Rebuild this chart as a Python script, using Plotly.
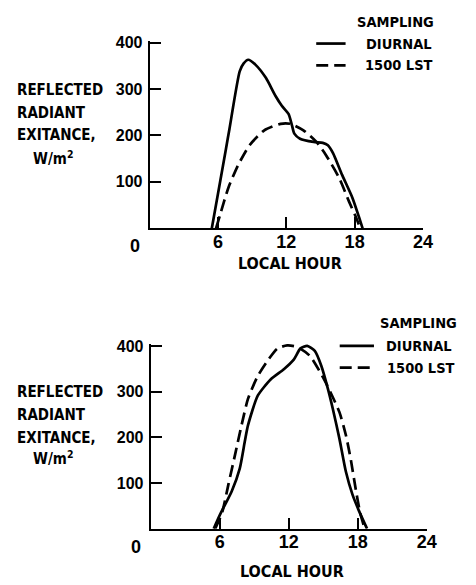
import plotly.graph_objects as go

# ---------------- data ----------------
top_diurnal_hour = [5.45, 6.2, 6.7, 7.0, 7.9, 8.25, 8.65, 9.3, 10.2, 11.05, 11.6, 12.2, 12.5, 12.7,
                    13.2, 14.4, 15.2, 15.65, 16.1, 16.9, 17.8, 18.4, 18.7]
top_diurnal_val = [0, 103, 172, 214, 338, 355, 363, 352, 324, 285, 264, 246, 221, 204,
                   193, 186, 184, 179, 162, 115, 66, 23, 0]

top_lst_hour = [5.82, 6.19, 6.9, 7.76, 8.77, 10.06, 11.5, 12.36, 13.5, 14.64, 15.5, 16.65, 17.5, 18.1, 18.5]
top_lst_val = [0, 30, 87, 136, 179, 211, 225, 225, 211, 186, 157, 108, 58, 25, 0]

bot_diurnal_hour = [5.47, 6.04, 7.04, 7.74, 8.17, 8.45, 9.3, 10.44, 11.57, 12.43, 13.0, 13.6,
                    14.26, 14.83, 15.4, 15.83, 16.4, 16.96, 17.53, 18.1, 18.8]
bot_diurnal_val = [0, 32, 82, 132, 190, 226, 291, 327, 349, 370, 394, 400,
                   389, 356, 306, 262, 197, 125, 75, 39, 0]

bot_lst_hour = [5.6, 6.2, 6.75, 7.32, 7.89, 8.45, 9.3, 10.14, 11.0, 11.86, 12.7, 13.84,
                15.0, 15.5, 16.4, 16.96, 17.4, 17.8, 18.2, 18.6]
bot_lst_val = [0, 35, 97, 161, 226, 284, 334, 367, 394, 401, 398, 378,
               330, 305, 255, 205, 150, 89, 35, 0]

x_ticks = [6, 12, 18, 24]
y_ticks = [100, 200, 300, 400]
y_title_lines = ["REFLECTED", "RADIANT", "EXITANCE,"]
y_unit = "W/m<sup>2</sup>"
x_title = "LOCAL HOUR"
legend_title = "SAMPLING"
legend_names = ["DIURNAL", "1500 LST"]

# ---------------- styling ----------------
W, H = 476, 585
NARROW = "DejaVu Sans Condensed, Liberation Sans Narrow, Arial Narrow, sans-serif"
WIDE = "Liberation Sans, Arial, sans-serif"
DASH = "12px,6px"

def px_x(p):
    return p / W

def px_y(p):
    return 1 - p / H

fig = go.Figure()

panels = [
    dict(xa="x", ya="y", xd=(153, 432), yd=(224, 36), yr=400,
         d=(top_diurnal_hour, top_diurnal_val), l=(top_lst_hour, top_lst_val),
         ytl=[(15, 84), (15, 107), (15, 130)], yunit=(32, 153), xtitle=(296, 260),
         leg=dict(title=(363, 15), items=[(372, 37), (371, 59)], line=(323, 353))),
    dict(xa="x2", ya="y2", xd=(154, 436), yd=(528, 343), yr=400,
         d=(bot_diurnal_hour, bot_diurnal_val), l=(bot_lst_hour, bot_lst_val),
         ytl=[(15, 390), (15, 413), (15, 436)], yunit=(32, 456), xtitle=(298, 571),
         leg=dict(title=(386, 320), items=[(392, 343), (393, 365)], line=(347, 382))),
]

annotations = []
shapes = []
for i, p in enumerate(panels):
    fig.add_trace(go.Scatter(x=p["d"][0], y=p["d"][1], mode="lines",
                             line=dict(color="black", width=2.7, shape="spline", smoothing=0.6),
                             xaxis=p["xa"], yaxis=p["ya"], showlegend=False, name=legend_names[0]))
    fig.add_trace(go.Scatter(x=p["l"][0], y=p["l"][1], mode="lines",
                             line=dict(color="black", width=2.7, dash=DASH, shape="spline", smoothing=0.6),
                             xaxis=p["xa"], yaxis=p["ya"], showlegend=False, name=legend_names[1]))
    sfx = "" if i == 0 else "2"
    y0px, y1px = p["yd"]
    ext = 4  # a little headroom above 400 so peaks are not clipped
    ppu = (y0px - y1px) / p["yr"]
    top_px = y1px - ext * ppu
    fig.update_layout(**{
        "xaxis" + sfx: dict(domain=[px_x(p["xd"][0]), px_x(p["xd"][1])], range=[0, 24],
                            anchor="y" + sfx, tickvals=x_ticks, ticks="inside", ticklen=11,
                            tickwidth=2, tickcolor="black", showline=True, linecolor="black",
                            linewidth=2.2, showgrid=False, zeroline=False,
                            ticklabelstandoff=-4,
                            tickfont=dict(family=WIDE, size=18, color="black", weight="bold")),
        "yaxis" + sfx: dict(domain=[px_y(y0px), px_y(top_px)], range=[0, p["yr"] + ext],
                            anchor="x" + sfx, tickvals=y_ticks, ticks="inside", ticklen=11,
                            tickwidth=2, tickcolor="black", showline=True, linecolor="black",
                            linewidth=2.2, showgrid=False, zeroline=False,
                            ticklabelstandoff=2,
                            tickfont=dict(family=WIDE, size=16, color="black", weight="bold")),
    })
    # "0" label at origin, shifted left like the original
    annotations.append(dict(x=0, y=0, xref=p["xa"], yref=p["ya"], text="0", showarrow=False,
                            xshift=-15, yshift=-18, xanchor="center", yanchor="middle",
                            font=dict(family=WIDE, size=18, color="black", weight="bold")))
    # x title
    annotations.append(dict(x=px_x(p["xtitle"][0]), y=px_y(p["xtitle"][1]),
                            xref="paper", yref="paper", text=x_title, showarrow=False,
                            xanchor="center", yanchor="middle",
                            font=dict(family=NARROW, size=16, color="black", weight="bold")))
    # y title lines
    for (tx, ty), txt in zip(p["ytl"], y_title_lines):
        annotations.append(dict(x=px_x(tx), y=px_y(ty), xref="paper", yref="paper", text=txt,
                                showarrow=False, xanchor="left", yanchor="middle",
                                font=dict(family=NARROW, size=15, color="black", weight="bold")))
    annotations.append(dict(x=px_x(p["yunit"][0]), y=px_y(p["yunit"][1]), xref="paper", yref="paper",
                            text=y_unit, showarrow=False, xanchor="left", yanchor="middle",
                            font=dict(family=NARROW, size=15, color="black", weight="bold")))
    # legend
    lg = p["leg"]
    annotations.append(dict(x=px_x(lg["title"][0]), y=px_y(lg["title"][1]), xref="paper", yref="paper",
                            text=legend_title, showarrow=False, xanchor="left", yanchor="middle",
                            font=dict(family=NARROW, size=14.5, color="black", weight="bold")))
    for k, ((tx, ty), nm) in enumerate(zip(lg["items"], legend_names)):
        annotations.append(dict(x=px_x(tx), y=px_y(ty), xref="paper", yref="paper",
                                text=nm, showarrow=False, xanchor="left", yanchor="middle",
                                font=dict(family=NARROW, size=14.5, color="black", weight="bold")))
        shapes.append(dict(type="line", xref="paper", yref="paper",
                           x0=px_x(lg["line"][0]), x1=px_x(lg["line"][1]),
                           y0=px_y(ty), y1=px_y(ty),
                           line=dict(color="black", width=2.7, dash="solid" if k == 0 else DASH)))

fig.update_layout(width=W, height=H, margin=dict(l=0, r=0, t=0, b=0),
                  paper_bgcolor="white", plot_bgcolor="white",
                  annotations=annotations, shapes=shapes, showlegend=False)

fig.write_html("out.html")
